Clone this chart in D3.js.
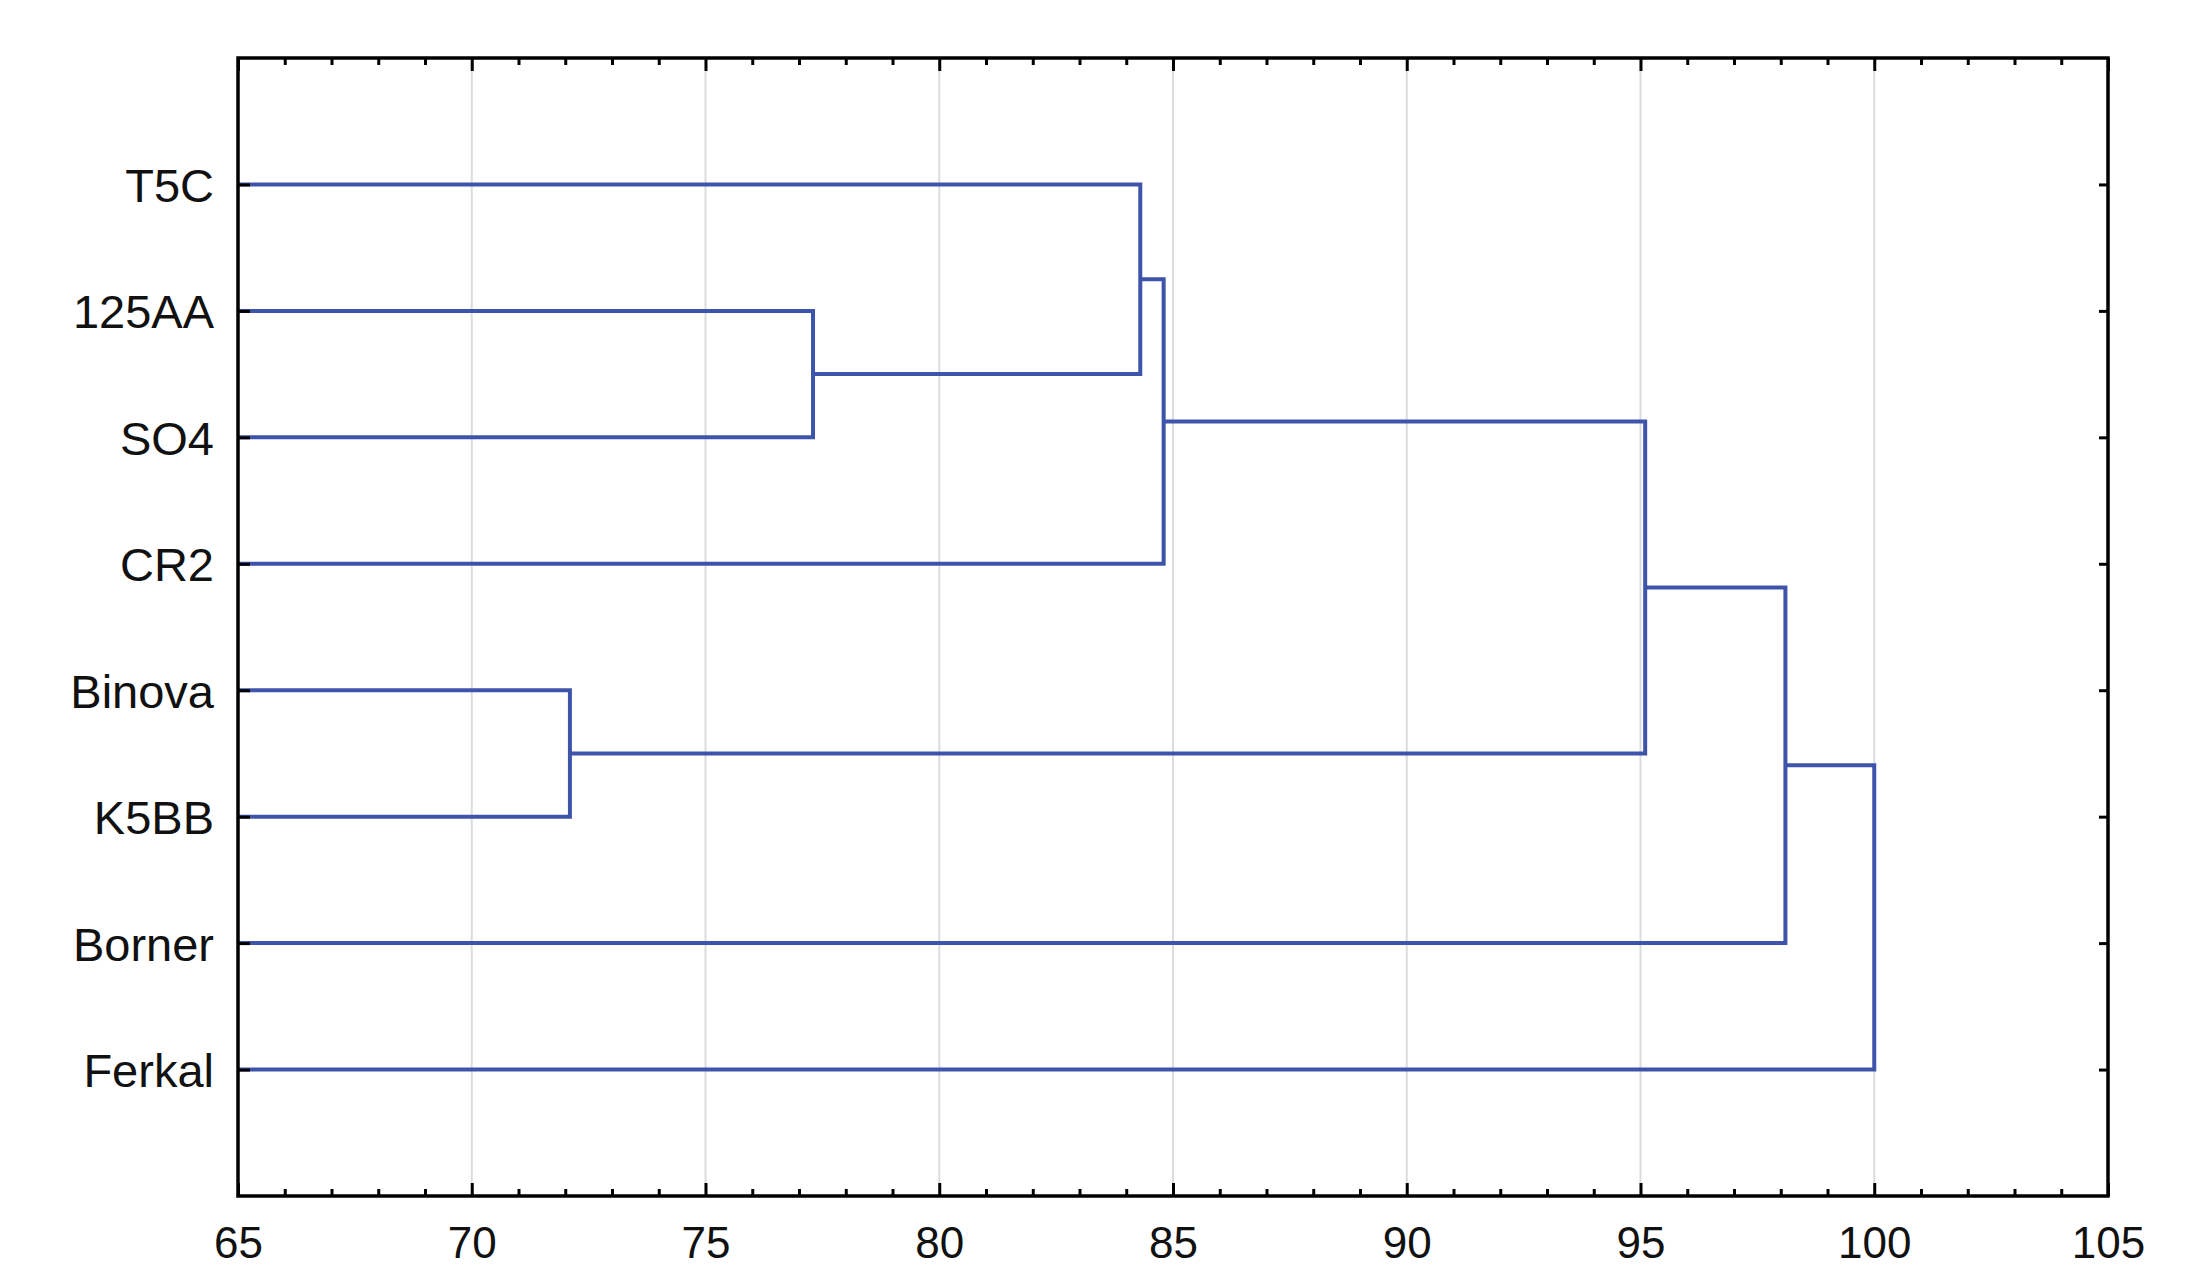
<!DOCTYPE html>
<html>
<head>
<meta charset="utf-8">
<script src="https://cdn.jsdelivr.net/npm/d3@7"></script>
<style>
  body { margin: 0; background: #fff; }
  svg { display: block; }
  text { font-family: "Liberation Sans", Arial, sans-serif; }
</style>
</head>
<body>
<svg id="chart"></svg>
<script>
// leaves top to bottom
const leaves = ["T5C", "125AA", "SO4", "CR2", "Binova", "K5BB", "Borner", "Ferkal"];
// merge steps (hclust style): negative = leaf index (-1 is first leaf), positive = earlier merge step
const mergeLeft   = [-2, -5, -1, 3, 4, 5, 6];
const mergeRight  = [-3, -6, 1, -4, 2, -7, -8];
const mergeHeight = [77.3, 72.1, 84.3, 84.8, 95.1, 98.1, 100.0];
const xTicks = [65, 70, 75, 80, 85, 90, 95, 100, 105];
const gridTicks = [70, 75, 80, 85, 90, 95, 100];

const W = 2207, H = 1270;
const plotLeft = 238, plotRight = 2108, plotTop = 58, plotBottom = 1196;
const lineColor = "#3e54aa";

const svg = d3.select("#chart").attr("width", W).attr("height", H);
svg.append("rect").attr("width", W).attr("height", H).attr("fill", "#fff");

const x = d3.scaleLinear().domain([65, 105]).range([plotLeft, plotRight]);
const y = d3.scaleLinear().domain([0, leaves.length + 1]).range([plotTop, plotBottom]);
const yBand = d3.scalePoint().domain(leaves).range([y(1), y(leaves.length)]);

// build the tree from the merge table
const nodes = [];
function getNode(id) {
  if (id < 0) return { name: leaves[-id - 1], h: 65 };
  return nodes[id - 1];
}
for (let i = 0; i < mergeHeight.length; i++) {
  nodes.push({ name: "m" + (i + 1), h: mergeHeight[i], children: [getNode(mergeLeft[i]), getNode(mergeRight[i])] });
}
const root = d3.hierarchy(nodes[nodes.length - 1]);
root.eachAfter(d => {
  if (!d.children) d.yPos = yBand(d.data.name);
  else d.yPos = d3.mean(d.children, c => c.yPos);
});

// grid
svg.append("g").selectAll("line")
  .data(gridTicks)
  .enter()
  .append("line")
  .attr("x1", d => x(d)).attr("x2", d => x(d))
  .attr("y1", plotTop).attr("y2", plotBottom)
  .attr("stroke", "#dcdcdc")
  .attr("stroke-width", 2);

// dendrogram links
svg.append("g").selectAll("path")
  .data(root.descendants().filter(d => d.children))
  .enter()
  .append("path")
  .attr("d", d => {
    const [a, b] = d.children;
    return "M" + x(a.data.h) + "," + a.yPos +
      "H" + x(d.data.h) +
      "V" + b.yPos +
      "H" + x(b.data.h);
  })
  .attr("fill", "none")
  .attr("stroke", lineColor)
  .attr("stroke-width", 4)
  .attr("stroke-linejoin", "miter");

function styleAxis(g) {
  g.select(".domain").remove();
  g.selectAll(".tick line").attr("stroke", "#000").attr("stroke-width", 3);
  g.selectAll("text").attr("fill", "#111").style("font-size", "44px");
}

const minorTicks = d3.range(66, 105).filter(v => v % 5 !== 0);

// bottom axis
svg.append("g")
  .attr("transform", "translate(0," + plotBottom + ")")
  .call(d3.axisBottom(x).tickValues(minorTicks).tickSize(-7).tickFormat(""))
  .call(styleAxis);
svg.append("g")
  .attr("transform", "translate(0," + plotBottom + ")")
  .call(d3.axisBottom(x).tickValues(xTicks).tickSize(-13).tickPadding(31).tickFormat(d3.format("d")))
  .call(styleAxis);

// top axis
svg.append("g")
  .attr("transform", "translate(0," + plotTop + ")")
  .call(d3.axisTop(x).tickValues(minorTicks).tickSize(-7).tickFormat(""))
  .call(styleAxis);
svg.append("g")
  .attr("transform", "translate(0," + plotTop + ")")
  .call(d3.axisTop(x).tickValues(xTicks).tickSize(-13).tickFormat(""))
  .call(styleAxis);

// left axis with leaf labels
svg.append("g")
  .attr("transform", "translate(" + plotLeft + ",0)")
  .call(d3.axisLeft(yBand).tickSize(-12).tickPadding(24))
  .call(styleAxis)
  .selectAll("text").attr("dy", "0.36em").style("font-size", "47px");

// right axis
svg.append("g")
  .attr("transform", "translate(" + plotRight + ",0)")
  .call(d3.axisRight(yBand).tickSize(-9).tickFormat(""))
  .call(styleAxis);

// frame
svg.append("rect")
  .attr("x", plotLeft).attr("y", plotTop)
  .attr("width", plotRight - plotLeft).attr("height", plotBottom - plotTop)
  .attr("fill", "none")
  .attr("stroke", "#000")
  .attr("stroke-width", 3.5);
</script>
</body>
</html>
